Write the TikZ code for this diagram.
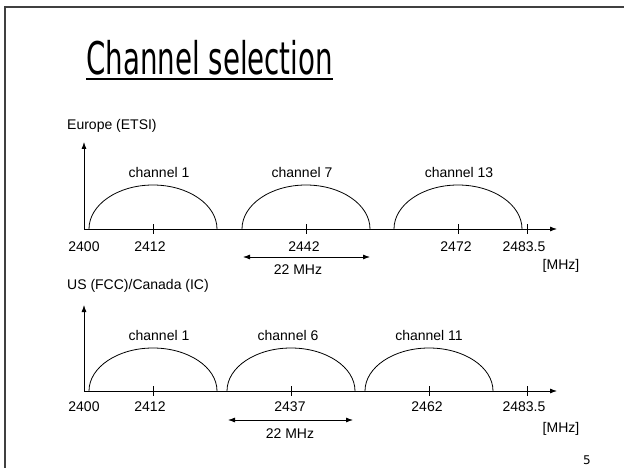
\documentclass[tikz,border=0pt]{standalone}
\usepackage{fontspec}
\setmainfont{Liberation Sans}
\newfontfamily\titlefont{DejaVu Sans}
\usetikzlibrary{arrows.meta,calc}
\tikzset{>={Latex[length=7pt,width=5pt]}}
\tikzset{
  axis/.style={->,line width=0.8pt},
  band/.style={line width=0.8pt},
  tick/.style={line width=0.8pt},
  span/.style={<->,line width=0.8pt},
  txt/.style={inner sep=0pt,font=\fontsize{14}{16}\selectfont},
}

\begin{document}
\begin{tikzpicture}[x=1pt,y=-1pt]
  \useasboundingbox (0,0) rectangle (624,468);

  % Frame
  \coordinate (f1) at (5,470);
  \coordinate (f2) at (5,7);
  \coordinate (f3) at (626,7);
  \draw[black!75,line width=1.6pt] (f1) -- (f2) -- (f3);

  % Title
  \node[anchor=base west,inner sep=0pt] (title) at (86,75)
    {\scalebox{0.615}[1]{\titlefont\fontsize{45}{50}\selectfont Channel selection}};
  \draw[line width=2pt] ($(title.base west)+(0,4)$) -- ($(title.base east)+(0,4)$);

  % Vertices (Europe)
  \coordinate (o1) at (84,229);
  \coordinate (e1) at (557,229);
  \coordinate (t1) at (84,142);
  \coordinate (a1) at (89,229);
  \coordinate (a2) at (242,229);
  \coordinate (a3) at (394,229);
  \coordinate (k1) at (153,229);
  \coordinate (k2) at (306,229);
  \coordinate (k3) at (458,229);
  \coordinate (k4) at (527,229);
  \coordinate (s1) at (243,257);
  \coordinate (s2) at (370,257);

  % Vertices (US/Canada)
  \coordinate (o2) at (84,391);
  \coordinate (e2) at (557,391);
  \coordinate (t2) at (84,305);
  \coordinate (b1) at (89,391);
  \coordinate (b2) at (227,391);
  \coordinate (b3) at (365,391);
  \coordinate (m1) at (153,391);
  \coordinate (m2) at (291,391);
  \coordinate (m3) at (429,391);
  \coordinate (m4) at (527,391);
  \coordinate (s3) at (228,420);
  \coordinate (s4) at (353,420);

  % Lines
  \draw[axis] (o1) -- (e1);
  \draw[axis] (o1) -- (t1);
  \draw[band] (a1) arc[start angle=180,end angle=0,x radius=64pt,y radius=44pt];
  \draw[band] (a2) arc[start angle=180,end angle=0,x radius=64pt,y radius=44pt];
  \draw[band] (a3) arc[start angle=180,end angle=0,x radius=64pt,y radius=44pt];
  \draw[tick] ($(k1)+(0,-5)$) -- ($(k1)+(0,5)$);
  \draw[tick] ($(k2)+(0,-5)$) -- ($(k2)+(0,5)$);
  \draw[tick] ($(k3)+(0,-5)$) -- ($(k3)+(0,5)$);
  \draw[tick] ($(k4)+(0,-5)$) -- ($(k4)+(0,5)$);
  \draw[span] (s1) -- (s2);

  \draw[axis] (o2) -- (e2);
  \draw[axis] (o2) -- (t2);
  \draw[band] (b1) arc[start angle=180,end angle=0,x radius=64pt,y radius=43pt];
  \draw[band] (b2) arc[start angle=180,end angle=0,x radius=64pt,y radius=43pt];
  \draw[band] (b3) arc[start angle=180,end angle=0,x radius=64pt,y radius=43pt];
  \draw[tick] ($(m1)+(0,-5)$) -- ($(m1)+(0,5)$);
  \draw[tick] ($(m2)+(0,-5)$) -- ($(m2)+(0,5)$);
  \draw[tick] ($(m3)+(0,-5)$) -- ($(m3)+(0,5)$);
  \draw[tick] ($(m4)+(0,-5)$) -- ($(m4)+(0,5)$);
  \draw[span] (s3) -- (s4);

  % Label
  \node[txt,anchor=west] (eu) at (67,126) {Europe (ETSI)};
  \node[txt] (eu1) at (159,172) {channel 1};
  \node[txt] (eu7) at (302,172) {channel 7};
  \node[txt] (eu13) at (459,172) {channel 13};
  \node[txt] (f2400) at (84,247) {2400};
  \node[txt] (f2412) at (150,247) {2412};
  \node[txt] (f2442) at (304,247) {2442};
  \node[txt] (f2472) at (456,247) {2472};
  \node[txt] (f2483) at (524,247) {2483.5};
  \node[txt] (w1) at (298,270) {22 MHz};
  \node[txt] (u1) at (561,266) {[MHz]};

  \node[txt,anchor=west] (us) at (67,286) {US (FCC)/Canada (IC)};
  \node[txt] (us1) at (159,335) {channel 1};
  \node[txt] (us6) at (288,335) {channel 6};
  \node[txt] (us11) at (429,335) {channel 11};
  \node[txt] (g2400) at (84,407) {2400};
  \node[txt] (g2412) at (150,407) {2412};
  \node[txt] (g2437) at (290,407) {2437};
  \node[txt] (g2462) at (427,407) {2462};
  \node[txt] (g2483) at (524,407) {2483.5};
  \node[txt] (w2) at (290,434) {22 MHz};
  \node[txt] (u2) at (561,429) {[MHz]};

  \node[inner sep=0pt,font=\titlefont\fontsize{12}{14}\selectfont] (page) at (587,460) {5};
\end{tikzpicture}
\end{document}
